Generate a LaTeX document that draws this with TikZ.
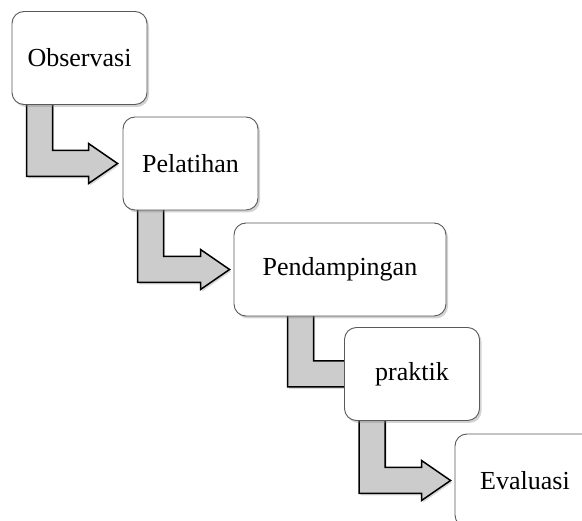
\documentclass[tikz,border=0pt]{standalone}
\usepackage{fontspec}
\setmainfont{Liberation Serif}
\usepackage{tikz}
\usetikzlibrary{calc,shadows,backgrounds}

% bent block arrow: source, target, shaft offset, gap before target
\newcommand{\bentarrow}[4]{%
  \draw[blockarrow] let \p1=(#1.south west), \p2=(#2.west) in
    (\x1+#3, \y1+4pt) -- (\x1+#3+26pt, \y1+4pt) -- (\x1+#3+26pt, \y2+13pt)
    -- (\x2-#4-29pt, \y2+13pt) -- (\x2-#4-29pt, \y2+20pt) -- (\x2-#4, \y2)
    -- (\x2-#4-29pt, \y2-20pt) -- (\x2-#4-29pt, \y2-13pt)
    -- (\x1+#3, \y2-13pt) -- cycle;}

\begin{document}
\begin{tikzpicture}[
  x=1pt,y=-1pt,
  box/.style={draw=black!65,line width=0.9pt,fill=white,rounded corners=12pt,
    minimum width=135pt,minimum height=93pt,align=center,
    font=\fontsize{26}{30}\selectfont,
    drop shadow={shadow xshift=2pt,shadow yshift=-2.5pt,opacity=0.35}},
  blockarrow/.style={draw=black,line width=1.5pt,fill=gray!40,line join=miter,
    drop shadow={shadow xshift=1.5pt,shadow yshift=-2pt,opacity=0.3}}
]
\useasboundingbox (0,0) rectangle (582,521);
\node[box] (obs) at (79.5,58) {Observasi};
\node[box] (latih) at (190.5,163.5) {Pelatihan};
\node[box,minimum width=212pt] (damping) at (340,269.5) {Pendampingan};
\node[box] (praktik) at (412,374) {praktik};
\node[box,minimum width=140pt] (eval) at (525,480.5) {Evaluasi};
\begin{scope}[on background layer]
\bentarrow{obs}{latih}{15pt}{5pt}
\bentarrow{latih}{damping}{15pt}{4pt}
\bentarrow{damping}{praktik}{54pt}{-40pt}
\bentarrow{praktik}{eval}{15pt}{4pt}
\end{scope}
\end{tikzpicture}
\end{document}
